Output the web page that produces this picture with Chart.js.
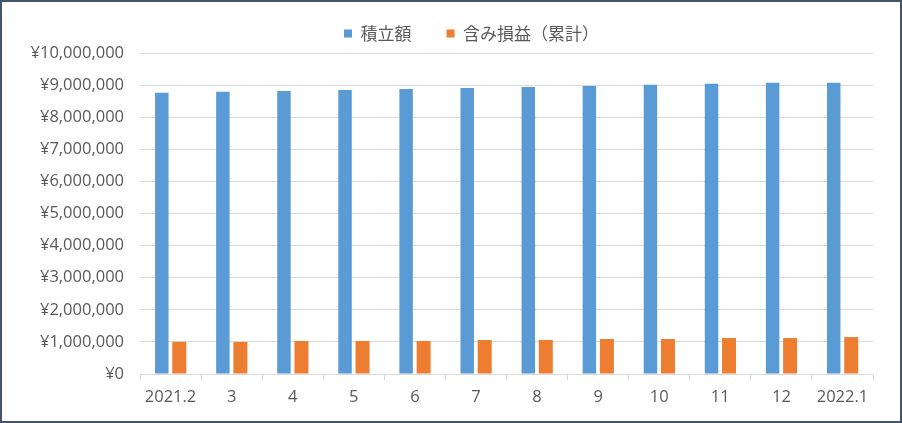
<!DOCTYPE html>
<html>
<head>
<meta charset="utf-8">
<script src="https://cdn.jsdelivr.net/npm/chart.js@4.4.1/dist/chart.umd.min.js"></script>
<style>
  html, body { margin: 0; padding: 0; background: #fff; }
  #wrap {
    width: 902px; height: 423px; box-sizing: border-box;
    border: 2px solid #44546A; background: #fff;
  }
  canvas { display: block; }
</style>
</head>
<body>
<div id="wrap"><canvas id="myChart" width="898" height="419"></canvas></div>
<script>
const labels = ['2021.2', '3', '4', '5', '6', '7', '8', '9', '10', '11', '12', '2022.1'];
const tsumitate = [8760000, 8790000, 8820000, 8850000, 8880000, 8910000, 8940000, 8970000, 9010000, 9040000, 9070000, 9070000];
const fukumi = [1000000, 1000000, 1030000, 1030000, 1030000, 1060000, 1060000, 1090000, 1090000, 1120000, 1120000, 1150000];
const seriesNames = ['積立額', '含み損益（累計）'];

const TEXT = '#595959';
const GRID = '#d9d9d9';
const NUM_FONT = '"Open Sans", "Liberation Sans", sans-serif';
const JP_FONT = '"Noto Sans CJK JP", sans-serif';

// legend height is fixed so the plot top lands where it should,
// and the legend is nudged right like in the original
const legendFit = {
    id: 'legendFit',
    beforeInit(chart) {
        const fit = chart.legend.fit;
        chart.legend.fit = function () {
            fit.call(this);
            this.height = 63;
        };
    },
    afterLayout(chart) {
        chart.legend.left += 34;
        chart.legend.right += 34;
    }
};

document.addEventListener('DOMContentLoaded', function () {
    const ctx = document.getElementById('myChart').getContext('2d');

    const data = {
        labels: labels,
        datasets: [
            {
                label: seriesNames[0],
                data: tsumitate,
                backgroundColor: '#5B9BD5',
                categoryPercentage: 0.573,
                barPercentage: 0.77
            },
            {
                label: seriesNames[1],
                data: fukumi,
                backgroundColor: '#ED7D31',
                categoryPercentage: 0.573,
                barPercentage: 0.8
            }
        ]
    };

    new Chart(ctx, {
        type: 'bar',
        data: data,
        plugins: [legendFit],
        options: {
            responsive: false,
            animation: false,
            layout: { padding: { top: -12, left: 0, right: 27, bottom: 0 } },
            plugins: {
                legend: {
                    position: 'top',
                    labels: {
                        boxWidth: 8,
                        boxHeight: 8,
                        padding: 35,
                        color: TEXT,
                        font: { family: JP_FONT, size: 17 }
                    }
                },
                tooltip: { enabled: false }
            },
            scales: {
                x: {
                    grid: {
                        offset: true,
                        drawOnChartArea: false,
                        drawTicks: true,
                        tickLength: 6,
                        color: GRID
                    },
                    border: { display: true, color: GRID },
                    ticks: {
                        color: TEXT,
                        padding: 7,
                        maxRotation: 0,
                        font: { family: NUM_FONT, size: 16.5 }
                    },
                    afterFit(scale) { scale.height = 47; }
                },
                y: {
                    min: 0,
                    max: 10000000,
                    grid: { color: GRID, drawTicks: false },
                    border: { display: false },
                    ticks: {
                        stepSize: 1000000,
                        padding: 16,
                        color: TEXT,
                        font: { family: NUM_FONT, size: 16.5 },
                        callback: (v) => '¥' + v.toLocaleString('en-US')
                    },
                    afterFit(scale) { scale.width = 138; }
                }
            }
        }
    });
});
</script>
</body>
</html>
